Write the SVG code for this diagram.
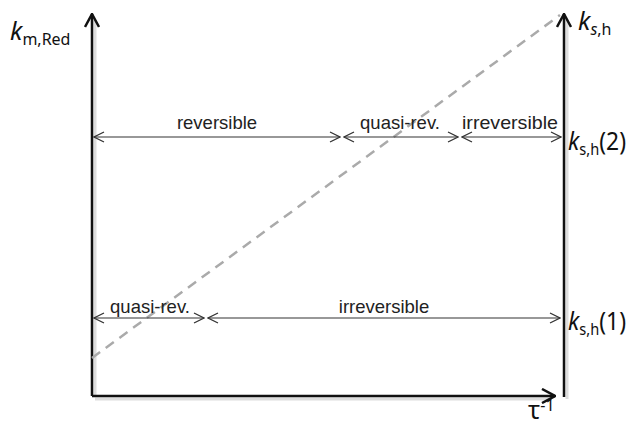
<svg xmlns="http://www.w3.org/2000/svg" width="629" height="425" viewBox="0 0 629 425">
<style>
.ax{stroke:#111;stroke-width:2.5;fill:none}
.sh{stroke:#ddd;stroke-width:3;fill:none}
.dim{stroke:#333;stroke-width:1.2;fill:none}
.t{font-family:"Liberation Sans",Arial,sans-serif;font-size:18.5px;fill:#222}
.k{font-family:"Noto Sans",sans-serif;font-size:25px;fill:#111}
.s{font-size:16px}
</style>
<defs>
<marker id="ah" viewBox="0 0 12 12" refX="11" refY="6" markerWidth="12" markerHeight="12" markerUnits="userSpaceOnUse" orient="auto-start-reverse">
<path d="M1,1 L11,6 L1,11" fill="none" stroke="#333" stroke-width="1.3"/>
</marker>
<marker id="ax" viewBox="0 0 16 16" refX="15" refY="8" markerWidth="16" markerHeight="16" markerUnits="userSpaceOnUse" orient="auto">
<path d="M2,1 L15,8 L2,15" fill="none" stroke="#111" stroke-width="2.5"/>
</marker>
</defs>
<g id="axes">
<path class="sh" d="M95,397 V20 M95,399 H552 M567,399 V20"/>
<path class="ax" d="M92,396 V14" marker-end="url(#ax)"/>
<path class="ax" d="M92,396 H555" marker-end="url(#ax)"/>
<path class="ax" d="M564,397 V14" marker-end="url(#ax)"/>
</g>
<g id="diagonal">
<path d="M92,358 L560,15" stroke="#aaa" stroke-width="2.5" stroke-dasharray="10,7" fill="none"/>
</g>
<g id="connectors">
<path class="dim" d="M94,137 H340" marker-start="url(#ah)" marker-end="url(#ah)"/>
<path class="dim" d="M344,137 H458" marker-start="url(#ah)" marker-end="url(#ah)"/>
<path class="dim" d="M462,137 H561" marker-start="url(#ah)" marker-end="url(#ah)"/>
<path class="dim" d="M94,318 H204" marker-start="url(#ah)" marker-end="url(#ah)"/>
<path class="dim" d="M208,318 H560" marker-start="url(#ah)" marker-end="url(#ah)"/>
</g>
<g id="labels">
<text class="t" x="217" y="129" text-anchor="middle">reversible</text>
<text class="t" x="400" y="129" text-anchor="middle">quasi-rev.</text>
<text class="t" x="510" y="129" text-anchor="middle" textLength="96" lengthAdjust="spacingAndGlyphs">irreversible</text>
<text class="t" x="150" y="313" text-anchor="middle">quasi-rev.</text>
<text class="t" x="384" y="313" text-anchor="middle">irreversible</text>
<text class="k" x="10" y="40"><tspan font-style="italic">k</tspan><tspan class="s" dy="5">m,Red</tspan></text>
<text class="k" x="578" y="30"><tspan font-style="italic">k</tspan><tspan class="s" dy="5" font-style="italic">s</tspan><tspan class="s">,h</tspan></text>
<text class="k" x="568" y="150" textLength="58" lengthAdjust="spacingAndGlyphs"><tspan font-style="italic">k</tspan><tspan class="s" dy="5">s,h</tspan><tspan dy="-5">(2)</tspan></text>
<text class="k" x="568" y="330" textLength="58" lengthAdjust="spacingAndGlyphs"><tspan font-style="italic">k</tspan><tspan class="s" dy="5">s,h</tspan><tspan dy="-5">(1)</tspan></text>
<text class="k" x="528" y="419" font-size="19"><tspan>τ</tspan><tspan class="s" dy="-8">-1</tspan></text>
</g>
</svg>
